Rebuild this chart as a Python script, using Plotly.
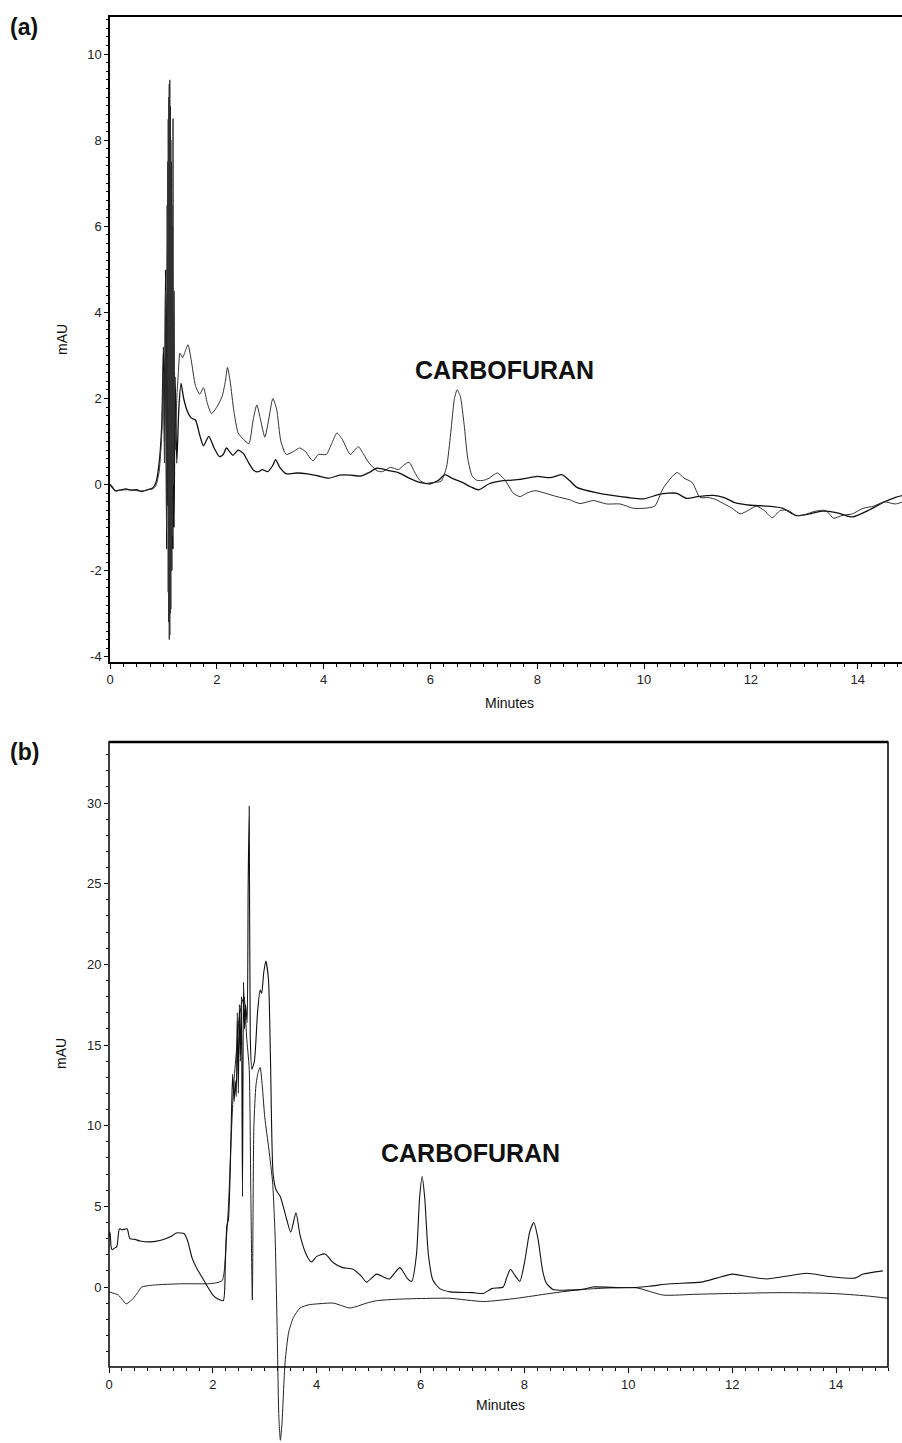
import plotly.graph_objects as go

W, H = 902, 1443

# ---------------- Panel (a) data ----------------
a_sample_t = [0, 0.05, 0.1, 0.2, 0.3, 0.4, 0.5, 0.6, 0.7, 0.8, 0.86, 0.92, 0.97, 1.0, 1.02, 1.04, 1.06, 1.08,
              1.09, 1.10, 1.11, 1.12, 1.13, 1.14, 1.15, 1.16, 1.17, 1.18, 1.19, 1.20, 1.22, 1.25, 1.28, 1.31,
              1.36, 1.41, 1.46, 1.52, 1.6, 1.68,
              1.75, 1.82, 1.9, 2.0, 2.1, 2.16, 2.2, 2.25, 2.32, 2.4, 2.5, 2.6, 2.68, 2.75, 2.82, 2.9, 2.97,
              3.05, 3.12, 3.2, 3.3, 3.45, 3.55, 3.65, 3.8, 3.9, 4.05, 4.15, 4.25, 4.35, 4.5, 4.65, 4.75, 4.85,
              5.0, 5.1, 5.25, 5.4, 5.5, 5.6, 5.7, 5.8, 5.9, 6.05, 6.2, 6.3, 6.38, 6.45, 6.5, 6.56, 6.63, 6.7,
              6.78, 6.87, 7.0, 7.1, 7.25, 7.4, 7.55, 7.68, 7.8, 7.96, 8.15, 8.37, 8.6, 8.8, 9.05, 9.3, 9.55,
              9.8, 10.0, 10.2, 10.35, 10.5, 10.62, 10.75, 10.9, 11.05, 11.2, 11.35, 11.5, 11.65, 11.8, 11.95,
              12.1, 12.25, 12.4, 12.55, 12.7, 12.85, 13.0, 13.2, 13.4, 13.55, 13.7, 13.9, 14.1, 14.3, 14.5,
              14.7, 14.85]
a_sample_v = [0.02, -0.05, -0.15, -0.13, -0.12, -0.12, -0.14, -0.15, -0.12, -0.1, -0.02, 0.3, 1.2, 2.6, 0.5,
              4.5, -1.0, 7.5, -2.5, 9.0, -3.6, 9.4, -3.0, 8.0, -2.0, 6.5, -1.2, 8.5, 0.0, 4.5, 0.8, 2.0, 2.6,
              3.05, 2.95, 3.1, 3.25, 2.9, 2.3,
              2.1, 2.25, 1.9, 1.65, 1.8, 2.05, 2.4, 2.72, 2.4, 1.7, 1.2, 1.05, 0.95, 1.5, 1.85, 1.5, 1.1, 1.5,
              2.0, 1.75, 1.0, 0.7, 0.78, 0.85, 0.78, 0.55, 0.7, 0.7, 0.95, 1.2, 1.05, 0.7, 0.88, 0.7, 0.5,
              0.32, 0.3, 0.4, 0.35, 0.45, 0.52, 0.3, 0.1, 0.03, 0.05, 0.08, 0.4, 1.2, 2.0, 2.2, 2.05, 1.4, 0.6,
              0.2, 0.1, 0.1, 0.15, 0.27, 0.1, -0.2, -0.28, -0.2, -0.14, -0.2, -0.28, -0.35, -0.44, -0.37,
              -0.45, -0.45, -0.55, -0.55, -0.5, -0.1, 0.15, 0.28, 0.15, 0.05, -0.3, -0.3, -0.35, -0.45, -0.55,
              -0.68, -0.6, -0.5, -0.6, -0.77, -0.6, -0.6, -0.72, -0.7, -0.62, -0.6, -0.78, -0.72, -0.68, -0.55,
              -0.5, -0.4, -0.45, -0.4]

a_blank_t = [0, 0.05, 0.1, 0.2, 0.3, 0.4, 0.5, 0.6, 0.7, 0.8, 0.86, 0.92, 0.97, 1.0, 1.02, 1.04, 1.06, 1.07,
             1.08, 1.09, 1.10, 1.11, 1.12, 1.13, 1.14, 1.15, 1.16, 1.17, 1.18, 1.19, 1.20, 1.22, 1.25, 1.29,
             1.33, 1.38, 1.45, 1.52, 1.6, 1.68, 1.75,
             1.85, 1.95, 2.05, 2.12, 2.18, 2.25, 2.3, 2.4, 2.5, 2.6, 2.7, 2.78, 2.85, 2.95, 3.05, 3.1, 3.18,
             3.3, 3.5, 3.7, 3.9, 4.1, 4.3, 4.5, 4.7, 4.85, 5.0, 5.2, 5.4, 5.6, 5.8, 6.0, 6.15, 6.27, 6.4, 6.6,
             6.75, 6.9, 7.1, 7.36, 7.68, 8.0, 8.24, 8.46, 8.6, 8.75, 9.12, 9.4, 9.7, 10.0, 10.3, 10.6, 10.8,
             11.0, 11.3, 11.5, 11.7, 12.0, 12.3, 12.6, 12.85, 13.1, 13.3, 13.6, 13.9, 14.2, 14.5, 14.7, 14.85]
a_blank_v = [0.0, -0.08, -0.14, -0.12, -0.1, -0.13, -0.12, -0.16, -0.12, -0.08, 0.05, 0.5, 1.4, 3.2, 1.0,
             5.0, -1.5, 6.5, -0.5, 8.5, -3.2, 9.3, -3.5, 8.8, -2.9, 7.5, -2.0, 6.0, -1.5, 4.0, -1.0, 2.5,
             0.5, 1.8, 2.35, 2.0, 1.7, 1.55, 1.5, 1.15, 0.9,
             1.12, 0.85, 0.65, 0.7, 0.85, 0.75, 0.68, 0.8, 0.72, 0.5, 0.32, 0.3, 0.35, 0.3, 0.45, 0.58,
             0.4, 0.25, 0.27, 0.25, 0.2, 0.15, 0.22, 0.22, 0.2, 0.28, 0.38, 0.33, 0.28, 0.15, 0.05, 0.02, 0.1,
             0.23, 0.15, 0.05, -0.05, -0.12, 0.02, 0.09, 0.12, 0.19, 0.16, 0.23, 0.1, -0.07, -0.19, -0.25,
             -0.3, -0.33, -0.22, -0.2, -0.32, -0.28, -0.25, -0.3, -0.42, -0.48, -0.5, -0.55, -0.72, -0.68,
             -0.62, -0.65, -0.75, -0.6, -0.4, -0.3, -0.25]

# ---------------- Panel (b) data ----------------
b_sample_t = [0, 0.02, 0.04, 0.06, 0.1, 0.15, 0.2, 0.25, 0.35, 0.4, 0.5, 0.6, 0.8, 1.0, 1.2, 1.3, 1.45, 1.52,
              1.6, 1.7, 1.82, 1.9, 2.0, 2.1, 2.2, 2.24, 2.27, 2.3, 2.34, 2.38, 2.41, 2.43, 2.45, 2.47, 2.49,
              2.51, 2.53, 2.55, 2.57, 2.59, 2.61, 2.63, 2.66, 2.68, 2.70, 2.72, 2.75, 2.8, 2.86, 2.91, 2.94,
              2.98, 3.02, 3.07, 3.11, 3.16, 3.22, 3.3, 3.42, 3.5, 3.6, 3.68, 3.8, 3.9, 4.0, 4.16, 4.32, 4.5,
              4.7, 4.85, 4.96, 5.15, 5.3, 5.4, 5.6, 5.75, 5.83, 5.92, 5.98, 6.03, 6.08, 6.15, 6.24, 6.37, 6.57,
              7.0, 7.21, 7.37, 7.59, 7.66, 7.73, 7.8, 7.91, 8.0, 8.1, 8.18, 8.26, 8.35, 8.42, 8.55, 9.12, 9.31,
              9.95, 10.4, 10.8, 11.4, 11.7, 12.0, 12.3, 12.66, 13.1, 13.43, 13.88, 14.36, 14.52, 14.9]
b_sample_v = [3.1, 3.4, 2.5, 2.3, 2.4, 2.5, 3.6, 3.55, 3.6, 3.0, 2.95, 2.85, 2.8, 2.9, 3.15, 3.35, 3.3, 2.8,
              1.8, 1.1, 0.45, 0.0, -0.5, -0.75, -0.85, 1.5, 3.8, 4.2, 8.0, 13.2, 11.5, 12.8, 11.8, 17.0, 12.0,
              17.5, 14.0, 18.0, 5.6, 18.9, 16.0, 17.5, 16.4, 25.0, 29.8, 15.6, 13.5, 14.0, 17.0, 18.4, 18.2,
              19.5, 20.2, 19.1, 14.0, 7.0, 6.0, 5.6, 4.2, 3.4, 4.6, 3.2, 2.0, 1.55, 1.9, 2.05, 1.5, 1.2, 1.1,
              0.7, 0.3, 0.8, 0.6, 0.5, 1.2, 0.5, 0.35, 2.0, 5.5, 6.85, 5.5, 2.0, 0.4, -0.1, -0.3, -0.35, -0.4,
              -0.1, 0.0, 0.6, 1.1, 0.8, 0.35, 1.5, 3.4, 4.0, 3.0, 1.0, 0.25, -0.15, -0.15, 0.0, -0.05, 0.05,
              0.2, 0.3, 0.55, 0.8, 0.65, 0.5, 0.7, 0.85, 0.65, 0.55, 0.8, 1.0]

b_blank_t = [0, 0.1, 0.18, 0.26, 0.33, 0.4, 0.47, 0.55, 0.63, 0.8, 1.0, 1.4, 1.9, 2.05, 2.18, 2.22, 2.26, 2.3,
             2.35, 2.4, 2.45, 2.5, 2.55, 2.6, 2.65, 2.7, 2.73, 2.76, 2.79, 2.83, 2.87, 2.91, 2.95, 3.0, 3.08,
             3.15, 3.2, 3.24, 3.27, 3.3, 3.33, 3.39, 3.46, 3.55, 3.68, 3.85, 4.0, 4.32, 4.64, 4.96, 5.15, 5.6,
             6.24, 6.57, 7.21, 7.85, 8.49, 9.12, 10.15, 10.67, 11.3, 12.0, 12.97, 13.93, 14.58, 15.0]
b_blank_v = [-0.3, -0.4, -0.5, -0.8, -1.05, -0.9, -0.7, -0.35, 0.0, 0.1, 0.15, 0.2, 0.2, 0.25, 0.4, 1.0, 3.0,
             5.0, 9.0, 12.5, 14.5, 16.5, 17.5, 18.0, 15.5, 13.5, 6.0, -0.8, 10.0, 12.5, 13.3, 13.6, 12.5, 10.5,
             8.5, 6.5, 3.0, -3.0, -8.0, -9.5, -8.5, -4.7, -2.8, -1.9, -1.3, -1.1, -1.05, -1.0, -1.3, -1.0,
             -0.85, -0.75, -0.7, -0.7, -0.9, -0.7, -0.4, -0.15, -0.05, -0.5, -0.45, -0.4, -0.35, -0.4, -0.55,
             -0.7]

a_yticks = [-4, -2, 0, 2, 4, 6, 8, 10]
b_yticks = [0, 5, 10, 15, 20, 25, 30]
x_ticks = [0, 2, 4, 6, 8, 10, 12, 14]
label_peak = "CARBOFURAN"

# ---------------- figure ----------------
fig = go.Figure()
spl = dict(shape="spline", smoothing=0.6)
fig.add_trace(go.Scatter(x=a_blank_t, y=a_blank_v, mode="lines", line=dict(color="#111", width=1.3, **spl),
                         xaxis="x", yaxis="y"))
fig.add_trace(go.Scatter(x=a_sample_t, y=a_sample_v, mode="lines", line=dict(color="#333", width=1.0, **spl),
                         xaxis="x", yaxis="y"))
fig.add_trace(go.Scatter(x=b_blank_t, y=b_blank_v, mode="lines", line=dict(color="#222", width=1.0, **spl),
                         xaxis="x2", yaxis="y2"))
fig.add_trace(go.Scatter(x=b_sample_t, y=b_sample_v, mode="lines", line=dict(color="#111", width=1.1, **spl),
                         xaxis="x2", yaxis="y2"))

tickfont = dict(family="Liberation Sans, Arial, sans-serif", size=13, color="#222")


def px_x(p):
    return p / W


def px_y(p):
    return 1 - p / H


# panel (b) y range: x-axis sits at y=-5 (pixel 1367), plot area extends to page bottom
b_top_px, b_axis_px, b_bot_px = 742, 1367, 1443
b_scale = (1287 - 803) / 30.0  # px per mAU
b_ymax = (1287 - b_top_px) / b_scale
b_ymin = (1287 - b_bot_px) / b_scale

fig.update_layout(
    width=W, height=H,
    margin=dict(l=0, r=0, t=0, b=0),
    paper_bgcolor="white", plot_bgcolor="white",
    showlegend=False,
    xaxis=dict(domain=[px_x(110), 1.0], range=[0, 14.83], anchor="y",
               tickmode="array", tickvals=x_ticks, ticks="outside", ticklen=5, tickcolor="black",
               showline=True, linecolor="black", linewidth=1.5, mirror=True,
               showgrid=False, zeroline=False, tickfont=tickfont, automargin=False,
               minor=dict(dtick=0.25, ticks="outside", ticklen=3, tickcolor="black")),
    yaxis=dict(domain=[px_y(662), px_y(17)], range=[-4.12, 10.86], anchor="x",
               tickmode="array", tickvals=a_yticks, ticktext=[str(v) for v in a_yticks],
               ticks="outside", ticklen=4, tickcolor="black",
               showline=True, linecolor="black", linewidth=1.5,
               showgrid=False, zeroline=False, tickfont=tickfont, automargin=False,
               minor=dict(dtick=0.2, ticks="outside", ticklen=2, tickcolor="black")),
    xaxis2=dict(domain=[px_x(109), px_x(888)], range=[0, 15], anchor="free", position=px_y(b_axis_px),
                tickmode="array", tickvals=x_ticks, ticks="outside", ticklen=5, tickcolor="black",
                showline=False, showgrid=False, zeroline=False, tickfont=tickfont, automargin=False,
                minor=dict(dtick=0.25, ticks="outside", ticklen=3, tickcolor="black")),
    yaxis2=dict(domain=[0, px_y(b_top_px)], range=[b_ymin, b_ymax], anchor="x2",
                tickmode="array", tickvals=b_yticks, ticks="outside", ticklen=4, tickcolor="black",
                showline=False, showgrid=False, zeroline=False, tickfont=tickfont, automargin=False,
                minor=dict(tickmode="array", tickvals=[v for v in range(-4, 34) if v % 5 != 0],
                           ticks="outside", ticklen=2, tickcolor="black")),
)

# frame of panel (b)
fig.add_shape(type="rect", xref="paper", yref="paper",
              x0=px_x(109), x1=px_x(888), y0=px_y(b_axis_px), y1=px_y(b_top_px),
              line=dict(color="black", width=1.5), fillcolor="rgba(0,0,0,0)", layer="above")
fig.add_shape(type="line", xref="paper", yref="paper",
              x0=px_x(109), x1=px_x(888), y0=px_y(b_top_px), y1=px_y(b_top_px),
              line=dict(color="black", width=2.5), layer="above")

ann_font = dict(family="Liberation Sans, Arial, sans-serif", color="#111")
annots = [
    dict(text="<b>(a)</b>", x=px_x(8), y=px_y(27), xanchor="left", yanchor="middle", font=dict(size=23, **ann_font)),
    dict(text="<b>(b)</b>", x=px_x(8), y=px_y(752), xanchor="left", yanchor="middle", font=dict(size=23, **ann_font)),
    dict(text="<b>%s</b>" % label_peak, x=px_x(505), y=px_y(370), xanchor="center", yanchor="middle",
         font=dict(size=25, **ann_font)),
    dict(text="<b>%s</b>" % label_peak, x=px_x(470), y=px_y(1153), xanchor="center", yanchor="middle",
         font=dict(size=25, **ann_font)),
    dict(text="Minutes", x=px_x(509), y=px_y(703), xanchor="center", yanchor="middle", font=dict(size=14, **ann_font)),
    dict(text="Minutes", x=px_x(500), y=px_y(1405), xanchor="center", yanchor="middle", font=dict(size=14, **ann_font)),
    dict(text="mAU", x=px_x(62), y=px_y(340), textangle=-90, xanchor="center", yanchor="middle",
         font=dict(size=14, **ann_font)),
    dict(text="mAU", x=px_x(61), y=px_y(1054), textangle=-90, xanchor="center", yanchor="middle",
         font=dict(size=14, **ann_font)),
]
for a in annots:
    a.update(xref="paper", yref="paper", showarrow=False)
    fig.add_annotation(**a)

fig.write_html("out.html", config={"displayModeBar": False},
               post_script="document.body.style.margin='0';document.body.style.overflow='hidden';")
